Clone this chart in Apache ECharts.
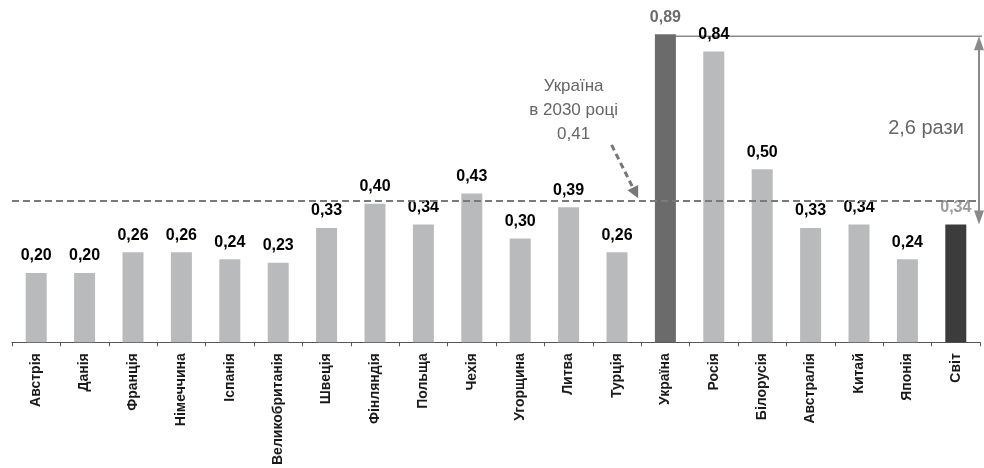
<!DOCTYPE html>
<html>
<head>
<meta charset="utf-8">
<script src="https://cdn.jsdelivr.net/npm/echarts@6/dist/echarts.min.js"></script>
<style>
  html, body { margin: 0; padding: 0; background: #fff; }
  #chart { width: 984px; height: 468px; }
</style>
</head>
<body>
<div id="chart"></div>
<script>
// Energy intensity by country
const countries = ['Австрія', 'Данія', 'Франція', 'Німеччина', 'Іспанія', 'Великобританія', 'Швеція',
  'Фінляндія', 'Польща', 'Чехія', 'Угорщина', 'Литва', 'Турція', 'Україна', 'Росія', 'Білорусія',
  'Австралія', 'Китай', 'Японія', 'Світ'];
const values = [0.20, 0.20, 0.26, 0.26, 0.24, 0.23, 0.33, 0.40, 0.34, 0.43, 0.30, 0.39, 0.26,
  0.89, 0.84, 0.50, 0.33, 0.34, 0.24, 0.34];
const target2030 = 0.41;      // Україна в 2030 році
const ratioText = '2,6 рази'; // Україна vs Світ

const FONT = 'Liberation Sans, Arial, sans-serif';
const fmt = v => v.toFixed(2).replace('.', ',');

const barColor = name => name === 'Україна' ? '#6b6b6b' : (name === 'Світ' ? '#3c3c3c' : '#b9babc');
const labelColor = name => name === 'Україна' ? '#6b6b6b' : (name === 'Світ' ? '#9a9a9a' : '#000');

const chart = echarts.init(document.getElementById('chart'));

chart.setOption({
  animation: false,
  backgroundColor: '#fff',
  grid: { left: 12, right: 4, top: 3, bottom: 125 },
  xAxis: {
    type: 'category',
    data: countries,
    boundaryGap: true,
    axisLine: { lineStyle: { color: '#555', width: 1 } },
    axisTick: { show: true, length: 4, lineStyle: { color: '#555' } },
    axisLabel: {
      rotate: 90, interval: 0, margin: 11,
      fontFamily: FONT, fontSize: 14, fontWeight: 'bold', color: '#1a1a1a'
    }
  },
  yAxis: {
    type: 'value', min: 0, max: 0.98, show: false, splitLine: { show: false }
  },
  series: [{
    type: 'bar',
    barWidth: 21,
    data: values.map((v, i) => ({
      value: v,
      itemStyle: { color: barColor(countries[i]) },
      label: { color: labelColor(countries[i]) }
    })),
    label: {
      show: true, position: 'top', distance: 9,
      fontFamily: FONT, fontSize: 16, fontWeight: 'bold',
      formatter: p => fmt(p.value)
    },
    markLine: {
      silent: true, symbol: 'none',
      label: { show: false },
      lineStyle: { color: '#7a7a7a', type: [7, 4], width: 2 },
      data: [{ yAxis: target2030 }]
    }
  }]
});

// Annotations positioned through the chart's own coordinate system
const px = (cat, val) => chart.convertToPixel({ xAxisIndex: 0, yAxisIndex: 0 }, [cat, val]);
const uaTop = px('Україна', values[13]);
const worldTop = px('Світ', values[19]);
const rightX = 979;
const lit = px('Литва', 0.67);
const tur = px('Турція', target2030);
const ua = px('Україна', target2030);
const arrowEnd = [(tur[0] + ua[0]) / 2 - 3, ua[1] - 2];
const arrowStart = [lit[0] + 43, px('Литва', 0.57)[1]];
const ang = Math.atan2(arrowEnd[1] - arrowStart[1], arrowEnd[0] - arrowStart[0]);
const head = (tip, a, len, w) => [
  tip,
  [tip[0] - len * Math.cos(a) + w * Math.sin(a), tip[1] - len * Math.sin(a) - w * Math.cos(a)],
  [tip[0] - len * Math.cos(a) - w * Math.sin(a), tip[1] - len * Math.sin(a) + w * Math.cos(a)]
];
const lineEnd = [arrowEnd[0] - 10 * Math.cos(ang), arrowEnd[1] - 10 * Math.sin(ang)];
const topY = uaTop[1] + 2;
const botY = worldTop[1];

chart.setOption({
  graphic: [
    {
      type: 'text', x: lit[0] + 5, y: lit[1] - 36,
      style: {
        text: 'Україна\nв 2030 році\n0,41', fill: '#666', fontFamily: FONT, fontSize: 17,
        lineHeight: 24, align: 'center'
      }
    },
    {
      type: 'line',
      shape: { x1: arrowStart[0], y1: arrowStart[1], x2: lineEnd[0], y2: lineEnd[1] },
      style: { stroke: '#777', lineWidth: 3, lineDash: [6, 4] }
    },
    {
      type: 'polygon',
      shape: { points: head(arrowEnd, ang, 12, 6) },
      style: { fill: '#777' }
    },
    {
      type: 'line',
      shape: { x1: uaTop[0] + 10, y1: topY, x2: rightX + 3, y2: topY },
      style: { stroke: '#8a8a8a', lineWidth: 1.5 }
    },
    {
      type: 'line',
      shape: { x1: rightX, y1: topY + 10, x2: rightX, y2: botY - 10 },
      style: { stroke: '#8a8a8a', lineWidth: 2 }
    },
    {
      type: 'polygon',
      shape: { points: head([rightX, topY], -Math.PI / 2, 14, 5) },
      style: { fill: '#8a8a8a' }
    },
    {
      type: 'polygon',
      shape: { points: head([rightX, botY], Math.PI / 2, 14, 5) },
      style: { fill: '#8a8a8a' }
    },
    {
      type: 'text', x: 926, y: 128,
      style: {
        text: ratioText, fill: '#666', fontFamily: FONT, fontSize: 20,
        align: 'center', verticalAlign: 'middle'
      }
    }
  ]
});
</script>
</body>
</html>
